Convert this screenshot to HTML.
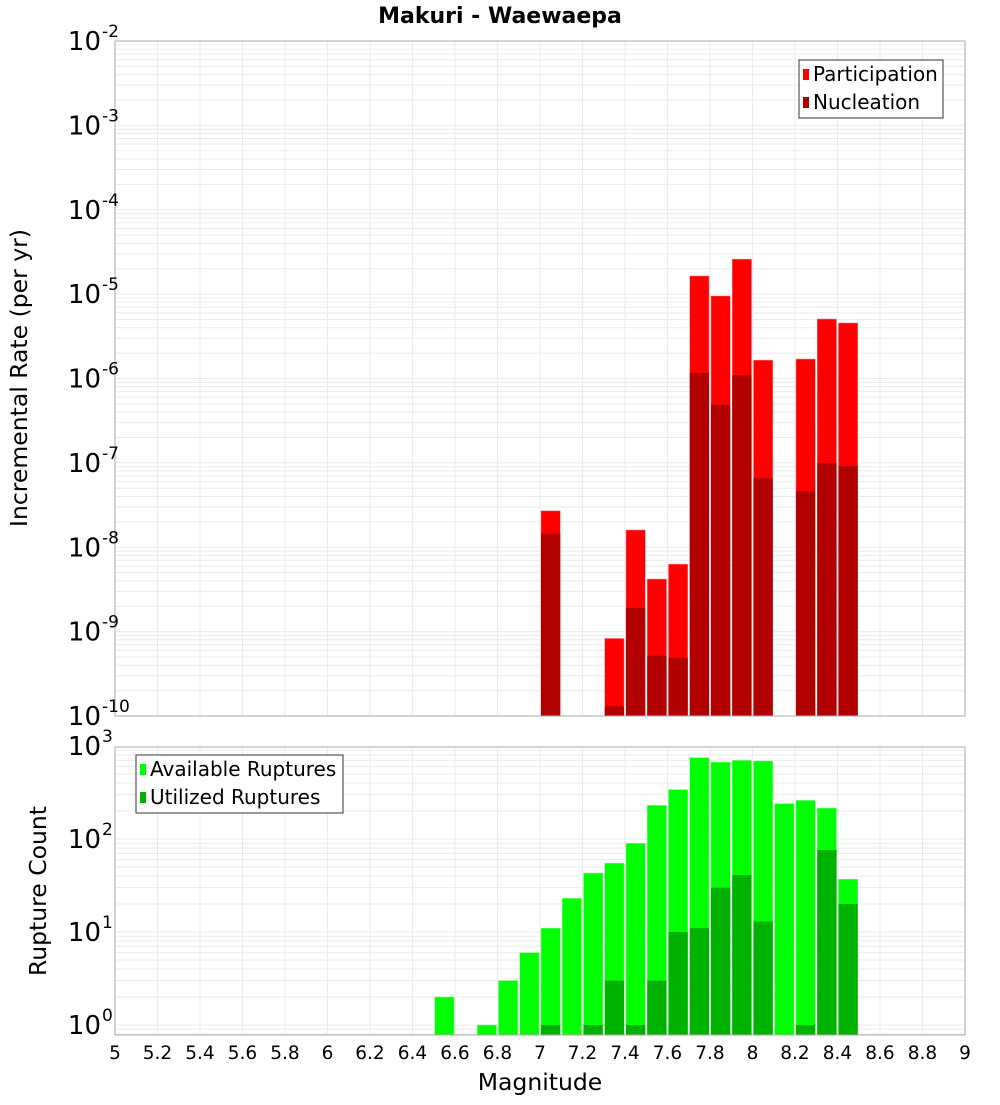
<!DOCTYPE html>
<html><head><meta charset="utf-8"><style>
body{margin:0;background:#fff}
svg text{font-family:"DejaVu Sans","Liberation Sans",sans-serif;fill:#000}
</style></head><body>
<svg id="c" width="1000" height="1100" xmlns="http://www.w3.org/2000/svg"></svg>
<script>
const bins=[6.55,6.75,6.85,6.95,7.05,7.15,7.25,7.35,7.45,7.55,7.65,7.75,7.85,7.95,8.05,8.15,8.25,8.35,8.45];
const partic=[0,0,0,0,2.7e-8,0,0,8.3e-10,1.6e-8,4.2e-9,6.3e-9,1.64e-5,9.5e-6,2.6e-5,1.65e-6,0,1.7e-6,5.07e-6,4.55e-6];
const nucl=[0,0,0,0,1.45e-8,0,0,1.3e-10,1.9e-9,5.2e-10,4.9e-10,1.17e-6,4.9e-7,1.1e-6,6.6e-8,0,4.6e-8,1e-7,9.2e-8];
const avail=[2,1,3,6,11,23,43,55,90,230,340,750,670,700,690,240,260,215,37];
const util=[0,0,0,0,1,0,1,3,1,3,10,11,30,41,13,0,1,76,20];
const xTicks=[5,5.2,5.4,5.6,5.8,6,6.2,6.4,6.6,6.8,7,7.2,7.4,7.6,7.8,8,8.2,8.4,8.6,8.8,9];
const topExp=[-2,-3,-4,-5,-6,-7,-8,-9,-10];
const botExp=[3,2,1,0];
const S=document.getElementById('c'),NS='http://www.w3.org/2000/svg';
function el(t,a,txt){const e=document.createElementNS(NS,t);for(const k in a)e.setAttribute(k,a[k]);if(txt!==undefined)e.textContent=txt;S.appendChild(e);return e;}
const L=115,R=965;
const X=v=>L+(v-5)/4*(R-L);
const T0=41,T1=716,YT=v=>T0+(-2-Math.log10(v))*(T1-T0)/8;
const B0=747,B1=1035,DEC=93,YB=v=>1025-Math.log10(v)*DEC;
function panel(y0,y1,yf,lo,hi,name){
  let bg=el('rect',{x:L,y:y0,width:R-L,height:y1-y0,fill:'#fff'});
  
  for(let e=lo;e<=hi;e++)for(let m=1;m<10;m++){const y=yf(m*Math.pow(10,e));if(y>=y0&&y<=y1){let g=el('line',{x1:L,x2:R,y1:y,y2:y,stroke:'#ebebeb','stroke-width':1});}}
  xTicks.forEach(t=>{let g=el('line',{x1:X(t),x2:X(t),y1:y0,y2:y1,stroke:'#ebebeb'});});
}
panel(T0,T1,YT,-10,-2,'top');panel(B0,B1,YB,-1,3,'bottom');
const bw=X(5.1)-X(5)-2;
bins.forEach((b,i)=>{const x=X(b-0.05)+1;
  if(partic[i]>0){let r=el('rect',{x:x,y:YT(partic[i]),width:bw,height:T1-YT(partic[i]),fill:'#ff0000',stroke:'#ff8080','stroke-width':0.5});}
  if(nucl[i]>0){let r=el('rect',{x:x,y:YT(nucl[i]),width:bw,height:T1-YT(nucl[i]),fill:'#b20000'});}
  if(avail[i]>0){let r=el('rect',{x:x,y:YB(avail[i]),width:bw,height:B1-YB(avail[i]),fill:'#00ff00',stroke:'#80ff80','stroke-width':0.5});}
  if(util[i]>0){let r=el('rect',{x:x,y:YB(util[i]),width:bw,height:B1-YB(util[i]),fill:'#00b200'});}
});
[[T0,T1],[B0,B1]].forEach(p=>{let r=el('rect',{x:L,y:p[0],width:R-L,height:p[1]-p[0],fill:'none',stroke:'#aaa','stroke-width':1});});
function ylab(y,e){let t=el('text',{x:101,y:y+9,'font-size':26,'text-anchor':'end'},'10');
 let s=el('text',{x:102,y:y-4,'font-size':17},String(e));}
topExp.forEach(e=>ylab(YT(Math.pow(10,e)),e));
botExp.forEach(e=>ylab(YB(Math.pow(10,e)),e));
xTicks.forEach(t=>{let s=el('text',{x:X(t),y:1059,'font-size':18.5,'text-anchor':'middle'},String(t));});
let tt=el('text',{x:500,y:23,'font-size':22,'font-weight':'bold','text-anchor':'middle'},'Makuri - Waewaepa');
let xt=el('text',{x:540,y:1090,'font-size':23.5,'text-anchor':'middle'},'Magnitude');
let y1=el('text',{x:0,y:0,'font-size':23.5,'text-anchor':'middle',transform:'translate(27,378) rotate(-90)'},'Incremental Rate (per yr)');
let y2=el('text',{x:0,y:0,'font-size':23.5,'text-anchor':'middle',transform:'translate(46,891) rotate(-90)'},'Rupture Count');
function legend(x,y,w,items,name){let b=el('rect',{x:x,y:y,width:w,height:58,fill:'#fff',stroke:'#333','stroke-width':1});
 items.forEach((it,i)=>{let sw=el('rect',{x:x+4,y:y+9+i*28,width:6,height:11,fill:it[1]});
 let t=el('text',{x:x+14,y:y+21+i*28,'font-size':20},it[0]);});}
legend(799,60,144,[['Participation','#ff0000'],['Nucleation','#b20000']],'legend-rate');
legend(136,755,207,[['Available Ruptures','#00ff00'],['Utilized Ruptures','#00b200']],'legend-count');
</script>
</body></html>
